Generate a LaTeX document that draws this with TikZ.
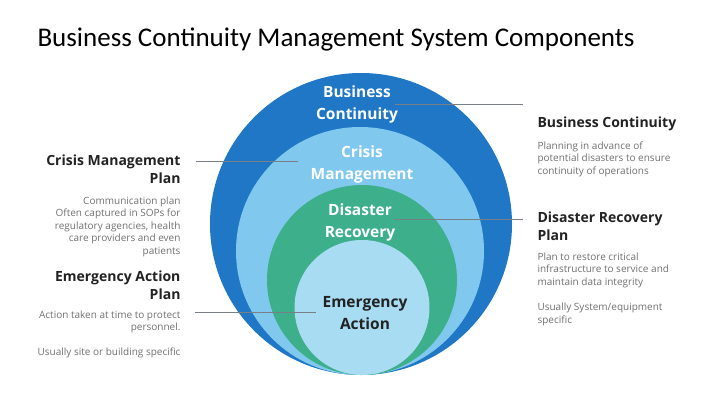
\documentclass[tikz,border=0pt]{standalone}
\usepackage{fontspec}
\setmainfont{Open Sans}
\newfontfamily\titlefont{Carlito}
\definecolor{bcblue}{HTML}{1F77C5}
\definecolor{cmblue}{HTML}{80C8EE}
\definecolor{drgreen}{HTML}{3DAF8B}
\definecolor{eapale}{HTML}{A8DCF2}
\definecolor{headgray}{HTML}{222222}
\definecolor{descgray}{HTML}{707070}
\definecolor{linegray}{HTML}{7A7F85}
\begin{document}
\begin{tikzpicture}[x=1pt,y=-1pt,
    ring/.style={circle, inner sep=0pt},
    ringlabel/.style={font=\bfseries\fontsize{15.5}{22}\selectfont, text=white, align=center},
    head/.style={font=\bfseries\fontsize{14}{18}\selectfont, text=headgray},
    desc/.style={font=\fontsize{10}{12.5}\selectfont, text=descgray},
    leader/.style={draw=linegray, line width=0.8pt}]
    \useasboundingbox (0,0) rectangle (720,404);
    \node[anchor=west, font=\titlefont\fontsize{27}{30}\selectfont] (title) at (34,39)
      {Business Continuity Management System Components};
    % nested circles, all touching at the bottom
    \node[ring, fill=bcblue, minimum size=302pt] (bc) at (361,224) {};
    \node[ring, fill=cmblue, minimum size=248pt] (cm) at (360,251) {};
    \node[ring, fill=drgreen, minimum size=190pt] (dr) at (362,280) {};
    \node[ring, fill=eapale, minimum size=135pt] (ea) at (362,307.5) {};
    \node[ringlabel] (bclabel) at (357,104) {Business\\Continuity};
    \node[ringlabel] (cmlabel) at (362,164) {Crisis\\Management};
    \node[ringlabel] (drlabel) at (360,222) {Disaster\\Recovery};
    \node[ringlabel, text=headgray] (ealabel) at (365,313) {Emergency\\Action};
    % right hand texts
    \node[head, anchor=west] (bchead) at (534,124) {Business Continuity};
    \node[desc, anchor=north west, align=left] (bcdesc) at (534,138)
      {Planning in advance of\\potential disasters to ensure\\continuity of operations};
    \node[head, anchor=west, align=left] (drhead) at (534,226) {Disaster Recovery\\Plan};
    \node[desc, anchor=north west, align=left] (drdesc) at (534,249)
      {Plan to restore critical\\infrastructure to service and\\maintain data integrity\\[13pt]Usually System/equipment\\specific};
    % left hand texts
    \node[head, anchor=east, align=right] (cmhead) at (184,169) {Crisis Management\\Plan};
    \node[desc, anchor=north east, align=right] (cmdesc) at (184,193)
      {Communication plan\\Often captured in SOPs for\\regulatory agencies, health\\care providers and even\\patients};
    \node[head, anchor=east, align=right] (eahead) at (184,285) {Emergency Action\\Plan};
    \node[desc, anchor=north east, align=right] (eadesc) at (184,307)
      {Action taken at time to protect\\personnel.\\[12pt]Usually site or building specific};
    % leader lines
    \coordinate (bcpin) at (523,104);
    \coordinate (drpin) at (523,219);
    \coordinate (cmpin) at (196,161);
    \coordinate (eapin) at (195,312);
    \draw[leader] ([xshift=-6pt]bclabel.east |- bcpin) -- (bcpin);
    \draw[leader] ([xshift=-5pt]drlabel.east |- drpin) -- (drpin);
    \draw[leader] (cmpin) -- ([xshift=-9pt]cmlabel.west |- cmpin);
    \draw[leader] (eapin) -- ([xshift=-3pt]ealabel.west |- eapin);
\end{tikzpicture}
\end{document}
